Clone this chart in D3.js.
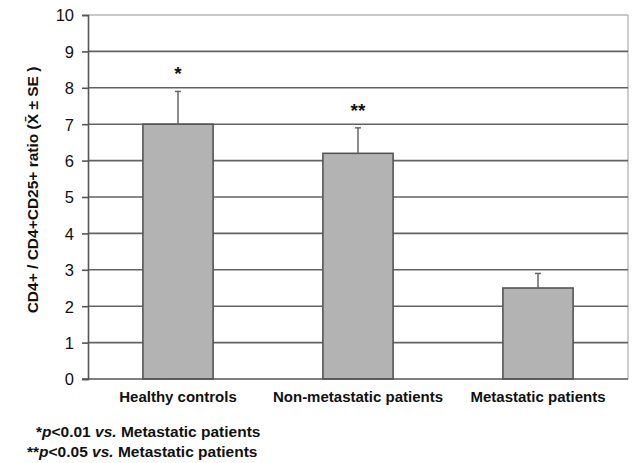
<!DOCTYPE html>
<html>
<head>
<meta charset="utf-8">
<script src="https://cdn.jsdelivr.net/npm/d3@7"></script>
<style>
  body { margin: 0; background: #fff; }
  svg { font-family: "Liberation Sans", Arial, sans-serif; }
</style>
</head>
<body>
<svg id="chart"></svg>
<script>
// Chart data
const categories = ['Healthy controls', 'Non-metastatic patients', 'Metastatic patients'];
const means = [7.0, 6.2, 2.5];
const errors = [0.9, 0.7, 0.4];
const stars = ['*', '**', ''];
const yTicks = [0, 1, 2, 3, 4, 5, 6, 7, 8, 9, 10];
const footnotes = [
    { stars: '*', p: 'p', rest: '<0.01 ', vs: 'vs.', tail: ' Metastatic patients' },
    { stars: '**', p: 'p', rest: '<0.05 ', vs: 'vs.', tail: ' Metastatic patients' }
];

function drawChart() {
    const width = 633;
    const height = 463;
    const margin = { top: 15, right: 5, bottom: 84, left: 88 };

    const svg = d3.select('#chart')
        .attr('width', width)
        .attr('height', height);

    const x = d3.scaleBand()
        .domain(categories)
        .range([margin.left, width - margin.right])
        .paddingInner(0.61)
        .paddingOuter(0.305);

    const y = d3.scaleLinear()
        .domain([0, 10])
        .range([height - margin.bottom, margin.top]);

    // Plot border (right, light)
    svg.append('line')
        .attr('x1', width - margin.right).attr('x2', width - margin.right)
        .attr('y1', y(10)).attr('y2', y(0))
        .attr('stroke', '#bdbdbd').attr('stroke-width', 1.5);

    // Gridlines
    svg.append('g')
        .selectAll('line')
        .data(yTicks.filter(d => d > 0))
        .join('line')
        .attr('x1', margin.left)
        .attr('x2', width - margin.right)
        .attr('y1', d => y(d))
        .attr('y2', d => y(d))
        .attr('stroke', d => d === 10 ? '#b5b5b5' : '#626262')
        .attr('stroke-width', 1.6);

    // Y axis
    const yAxis = svg.append('g')
        .attr('transform', `translate(${margin.left},0)`)
        .call(d3.axisLeft(y).tickValues(yTicks).tickSize(6).tickPadding(8));
    yAxis.select('.domain').attr('stroke', '#555').attr('stroke-width', 1.6);
    yAxis.selectAll('.tick line').attr('stroke', '#555').attr('stroke-width', 1.6);
    yAxis.selectAll('.tick text')
        .attr('fill', '#111')
        .style('font-size', '16.5px')
        .attr('dy', '0.36em');

    // Bars
    svg.append('g')
        .selectAll('rect')
        .data(means)
        .join('rect')
        .attr('x', (d, i) => x(categories[i]))
        .attr('y', d => y(d))
        .attr('width', x.bandwidth())
        .attr('height', d => y(0) - y(d))
        .attr('fill', '#b3b3b3')
        .attr('stroke', '#555')
        .attr('stroke-width', 1.6);

    // Error bars (upper only)
    const eb = svg.append('g').selectAll('g')
        .data(means)
        .join('g');
    eb.append('line')
        .attr('x1', (d, i) => x(categories[i]) + x.bandwidth() / 2)
        .attr('x2', (d, i) => x(categories[i]) + x.bandwidth() / 2)
        .attr('y1', d => y(d))
        .attr('y2', (d, i) => y(d + errors[i]))
        .attr('stroke', '#666').attr('stroke-width', 1.5);
    eb.append('line')
        .attr('x1', (d, i) => x(categories[i]) + x.bandwidth() / 2 - 3)
        .attr('x2', (d, i) => x(categories[i]) + x.bandwidth() / 2 + 3)
        .attr('y1', (d, i) => y(d + errors[i]))
        .attr('y2', (d, i) => y(d + errors[i]))
        .attr('stroke', '#666').attr('stroke-width', 1.5);

    // Significance stars
    svg.append('g')
        .selectAll('text')
        .data(stars)
        .join('text')
        .attr('x', (d, i) => x(categories[i]) + x.bandwidth() / 2)
        .attr('y', (d, i) => y(means[i] + errors[i]) - 11)
        .attr('text-anchor', 'middle')
        .style('font-size', '19px')
        .style('font-weight', 'bold')
        .attr('fill', '#111')
        .text(d => d);

    // X axis baseline
    svg.append('line')
        .attr('x1', margin.left - 6).attr('x2', width - margin.right)
        .attr('y1', y(0)).attr('y2', y(0))
        .attr('stroke', '#555').attr('stroke-width', 1.6);

    // Category labels
    svg.append('g')
        .selectAll('text')
        .data(categories)
        .join('text')
        .attr('x', d => x(d) + x.bandwidth() / 2)
        .attr('y', y(0) + 23)
        .attr('text-anchor', 'middle')
        .style('font-size', '15px')
        .style('font-weight', 'bold')
        .attr('fill', '#111')
        .text(d => d);

    // Y axis title
    svg.append('text')
        .attr('transform', `translate(38,${(y(0) + y(10)) / 2 - 7}) rotate(-90)`)
        .attr('text-anchor', 'middle')
        .style('font-size', '15.5px')
        .style('font-weight', 'bold')
        .attr('fill', '#111')
        .text('CD4+ / CD4+CD25+ ratio (X\u0304 \u00b1 SE )');

    // Footnotes
    const fx = [36, 27];
    const fy = [437, 457];
    footnotes.forEach((f, i) => {
        const t = svg.append('text')
            .attr('x', fx[i])
            .attr('y', fy[i])
            .style('font-size', '15.5px')
            .style('font-weight', 'bold')
            .attr('fill', '#111');
        t.append('tspan').text(f.stars);
        t.append('tspan').style('font-style', 'italic').text(f.p);
        t.append('tspan').text(f.rest);
        t.append('tspan').style('font-style', 'italic').text(f.vs);
        t.append('tspan').text(f.tail);
    });
}

drawChart();
</script>
</body>
</html>
